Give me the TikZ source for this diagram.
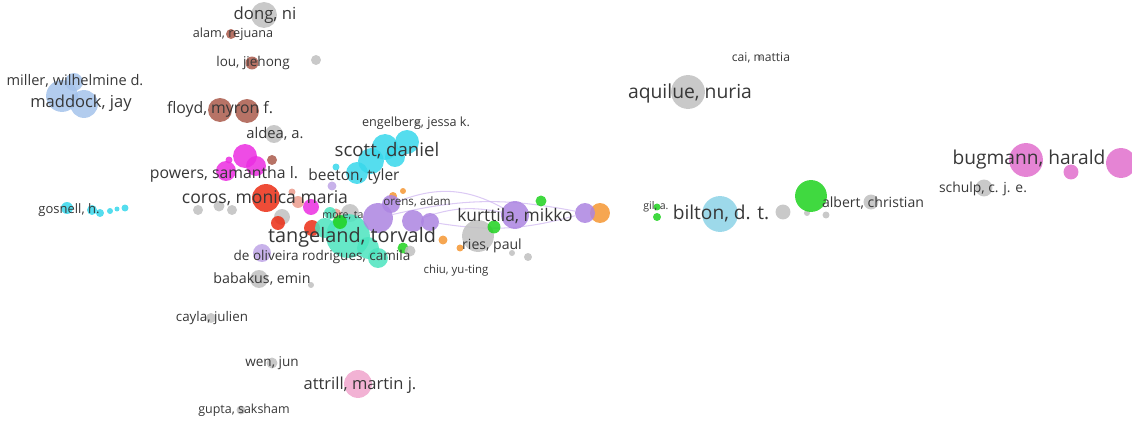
\documentclass[tikz,border=0pt]{standalone}
\usepackage{fontspec}
\setmainfont{Open Sans}
\usetikzlibrary{backgrounds}
\definecolor{huise}{RGB}{192,192,192}
\definecolor{zong}{RGB}{170,90,75}
\definecolor{lan}{RGB}{165,195,235}
\definecolor{qing}{RGB}{55,215,235}
\definecolor{pinhong}{RGB}{235,45,225}
\definecolor{hong}{RGB}{235,45,20}
\definecolor{xian}{RGB}{235,155,140}
\definecolor{lvsong}{RGB}{75,228,190}
\definecolor{zi}{RGB}{172,132,225}
\definecolor{qianzi}{RGB}{190,165,230}
\definecolor{cheng}{RGB}{245,150,50}
\definecolor{lv}{RGB}{30,210,30}
\definecolor{tianlan}{RGB}{140,210,230}
\definecolor{fenzi}{RGB}{225,110,205}
\definecolor{fenhong}{RGB}{240,165,205}
\definecolor{lianxian}{RGB}{205,180,240}
\definecolor{wenzi}{RGB}{55,55,55}
\tikzset{
  bub/.style={circle, inner sep=0pt, draw=none, fill opacity=0.85},
  lbl/.style={text=wenzi, inner sep=0pt},
  lian/.style={draw=lianxian, line width=0.6pt, opacity=0.7},
}
% 圆点: x, y, 半径, 颜色, 名字
\newcommand{\bub}[5]{\node[bub, fill=#4, minimum size=#3*1.134pt] (#5) at (#1,#2) {};}
\newcommand{\fs}[1]{\fontsize{#1}{#1}\selectfont}
\begin{document}
\begin{tikzpicture}[x=0.02cm, y=-0.02cm]
    \useasboundingbox (0,0) rectangle (1132,422);
    \clip (0,0) rectangle (1132,422);

    % 灰色
    \bub{264}{15}{13}{huise}{dong}
    \bub{316}{60}{5}{huise}{g1}
    \bub{760}{58}{2.5}{huise}{cai}
    \bub{688}{92}{17}{huise}{aquilue}
    \bub{274}{134}{9}{huise}{aldea}
    \bub{417}{123}{3}{huise}{engel}
    \bub{198}{210}{5}{huise}{g2}
    \bub{219}{206}{5.5}{huise}{g3}
    \bub{232}{210}{5}{huise}{g4}
    \bub{282}{217}{8}{huise}{g5}
    \bub{350}{213}{9}{huise}{more}
    \bub{478}{236}{16}{huise}{ries}
    \bub{512}{253}{3}{huise}{g6}
    \bub{528}{257}{4}{huise}{g7}
    \bub{259}{279}{9}{huise}{babakus}
    \bub{311}{285}{3}{huise}{g9}
    \bub{211}{318}{5}{huise}{cayla}
    \bub{272}{363}{5.5}{huise}{wen}
    \bub{241}{410}{4.5}{huise}{gupta}
    \bub{783}{212}{7.5}{huise}{g10}
    \bub{807}{213}{3}{huise}{g11}
    \bub{826}{215}{3.5}{huise}{g12}
    \bub{871}{202}{7.5}{huise}{albert}
    \bub{984}{188}{8.5}{huise}{schulp}

    % 棕色
    \bub{231}{34}{5}{zong}{alam}
    \bub{252}{63}{6.5}{zong}{lou}
    \bub{220}{110}{12}{zong}{floyd1}
    \bub{247}{111}{12}{zong}{floyd2}
    \bub{272}{160}{5}{zong}{zong1}

    % 浅蓝
    \bub{62}{96}{16}{lan}{maddock1}
    \bub{84}{104}{14}{lan}{maddock2}
    \bub{74}{82}{9}{lan}{miller}

    % 青色
    \bub{407}{142}{12}{qing}{scott1}
    \bub{385}{147}{13}{qing}{scott2}
    \bub{371}{161}{13}{qing}{scott3}
    \bub{357}{173}{11}{qing}{beeton}
    \bub{395}{157}{10}{qing}{scott4}
    \bub{336}{167}{3.5}{qing}{qing1}
    \bub{67}{208}{6}{qing}{gosnell1}
    \bub{92}{210}{5}{qing}{gosnell2}
    \bub{100}{213}{4}{qing}{gosnell3}
    \bub{110}{211}{3}{qing}{gosnell4}
    \bub{117}{209}{2.5}{qing}{gosnell5}
    \bub{125}{208}{3.5}{qing}{gosnell6}

    % 品红
    \bub{245}{156}{12}{pinhong}{powers1}
    \bub{256}{166}{10}{pinhong}{powers2}
    \bub{226}{171}{10}{pinhong}{powers3}
    \bub{229}{160}{3.5}{pinhong}{powers4}
    \bub{311}{207}{8}{pinhong}{powers5}

    % 红色和鲑色
    \bub{266}{198}{14}{hong}{coros}
    \bub{278}{223}{7}{hong}{hong1}
    \bub{312}{228}{8}{hong}{hong2}
    \bub{292}{192}{3.5}{xian}{xian1}
    \bub{298}{202}{6}{xian}{xian2}
    \bub{336}{214}{5.5}{xian}{xian3}

    % 绿松石
    \bub{348}{236}{22}{lvsong}{tangeland}
    \bub{325}{228}{10}{lvsong}{lv1}
    \bub{330}{213}{6}{lvsong}{lv2}
    \bub{368}{248}{11}{lvsong}{lv3}
    \bub{378}{258}{10}{lvsong}{lv4}

    % 橙色
    \bub{600}{213}{10}{cheng}{cheng1}
    \bub{393}{196}{4}{cheng}{cheng2}
    \bub{403}{191}{3}{cheng}{cheng3}
    \bub{443}{240}{4.5}{cheng}{cheng4}
    \bub{460}{248}{3.5}{cheng}{cheng5}

    % 紫色
    \bub{378}{218}{15}{zi}{zi1}
    \bub{391}{204}{9}{zi}{zi2}
    \bub{413}{221}{11}{zi}{zi3}
    \bub{430}{222}{9}{zi}{zi4}
    \bub{332}{186}{4.5}{qianzi}{zi6}
    \bub{262}{253}{9}{qianzi}{deoliv}
    \bub{515}{215}{14}{zi}{kurttila}
    \bub{585}{213}{10}{zi}{zi7}

    % 绿色
    \bub{340}{222}{7}{lv}{lv5}
    \bub{403}{248}{5.5}{lv}{lv6}
    \bub{410}{251}{5.5}{huise}{g8}
    \bub{541}{201}{5.5}{lv}{lv7}
    \bub{494}{227}{6.5}{lv}{lv8}
    \bub{811}{196}{16}{lv}{lv9}
    \bub{657}{207}{3.5}{lv}{gil1}
    \bub{657}{217}{4}{lv}{gil2}

    % 其他
    \bub{720}{214}{18}{tianlan}{bilton}
    \bub{1026}{160}{17}{fenzi}{bugmann1}
    \bub{1121}{163}{15}{fenzi}{bugmann2}
    \bub{1071}{172}{7.5}{fenzi}{bugmann3}
    \bub{358}{384}{14}{fenhong}{attrill}

    % 连线
    \begin{scope}[on background layer]
      \draw[lian] (zi2) to[bend left=25] (kurttila);
      \draw[lian] (zi3) to[bend left=15] (kurttila);
      \draw[lian] (zi4) to[bend right=12] (zi7);
      \draw[lian] (zi1) to[bend left=12] (zi7);
    \end{scope}

    % 标签
    \node[lbl, font=\fs{9.5}] (tdong) at (265,15) {dong, ni};
    \node[lbl, font=\fs{7.2}] (talam) at (233,34) {alam, rejuana};
    \node[lbl, font=\fs{7.7}] (tlou) at (253,63) {lou, jiehong};
    \node[lbl, font=\fs{6.9}] (tcai) at (761,58) {cai, mattia};
    \node[lbl, font=\fs{8.3}] (tmiller) at (75,81) {miller, wilhelmine d.};
    \node[lbl, font=\fs{9.4}] (tmaddock) at (81,103) {maddock, jay};
    \node[lbl, font=\fs{9}] (tfloyd) at (220,109) {floyd, myron f.};
    \node[lbl, font=\fs{11}] (taquilue) at (690,93) {aquilue, nuria};
    \node[lbl, font=\fs{8.4}] (taldea) at (275,134) {aldea, a.};
    \node[lbl, font=\fs{7.2}] (tengel) at (416,123) {engelberg, jessa k.};
    \node[lbl, font=\fs{10.6}] (tscott) at (387,151) {scott, daniel};
    \node[lbl, font=\fs{9}] (tpowers) at (224,174) {powers, samantha l.};
    \node[lbl, font=\fs{8.8}] (tbeeton) at (354,176) {beeton, tyler};
    \node[lbl, font=\fs{10.9}] (tbugmann) at (1029,160) {bugmann, harald};
    \node[lbl, font=\fs{7.9}] (tschulp) at (983,189) {schulp, c. j. e.};
    \node[lbl, font=\fs{10}] (tcoros) at (265,198) {coros, monica maria};
    \node[lbl, font=\fs{7.4}] (tgosnell) at (69,210) {gosnell, h.};
    \node[lbl, font=\fs{6}] (tmore) at (343,216) {more, ta};
    \node[lbl, font=\fs{6.6}] (torens) at (417,202) {orens, adam};
    \node[lbl, font=\fs{6}] (tgil) at (656,207) {gil, a.};
    \node[lbl, font=\fs{10.9}] (tbilton) at (721,213) {bilton, d. t.};
    \node[lbl, font=\fs{8}] (talbert) at (873,203) {albert, christian};
    \node[lbl, font=\fs{9.9}] (tkurttila) at (515,216) {kurttila, mikko};
    \node[lbl, font=\fs{11.3}] (ttangeland) at (352,237) {tangeland, torvald};
    \node[lbl, font=\fs{8}] (tries) at (492,246) {ries, paul};
    \node[lbl, font=\fs{7.7}] (tdeoliv) at (322,257) {de oliveira rodrigues, camila};
    \node[lbl, font=\fs{6.5}] (tchiu) at (456,271) {chiu, yu-ting};
    \node[lbl, font=\fs{8.1}] (tbabakus) at (262,279) {babakus, emin};
    \node[lbl, font=\fs{7.6}] (tcayla) at (212,318) {cayla, julien};
    \node[lbl, font=\fs{7.7}] (twen) at (272,363) {wen, jun};
    \node[lbl, font=\fs{9.4}] (tattrill) at (360,385) {attrill, martin j.};
    \node[lbl, font=\fs{7.1}] (tgupta) at (244,410) {gupta, saksham};
\end{tikzpicture}
\end{document}
